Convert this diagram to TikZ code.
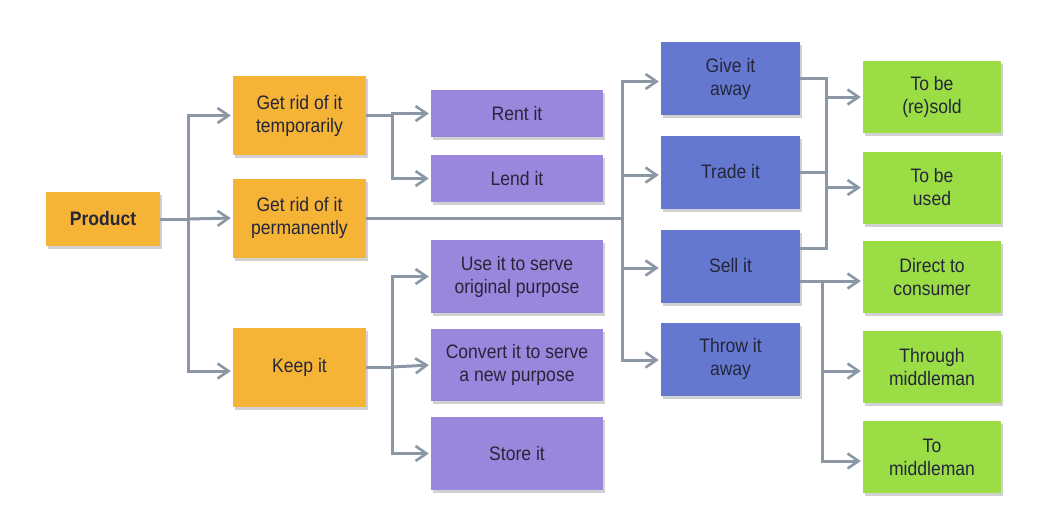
\documentclass[tikz,border=0pt]{standalone}
\usepackage{fontspec}
\setmainfont[FakeStretch=0.9]{Liberation Sans}
\usetikzlibrary{arrows.meta,shadows}
\definecolor{orng}{HTML}{F6B436}
\definecolor{purp}{HTML}{9A86DC}
\definecolor{blu}{HTML}{6478CF}
\definecolor{grn}{HTML}{9ADD45}
\definecolor{ln}{HTML}{8C97A6}
\definecolor{txt}{HTML}{25263A}
\begin{document}
\begin{tikzpicture}[x=1pt,y=-1pt,
  box/.style={draw=none, align=center, text=txt, inner sep=0pt,
    font=\fontsize{19.5}{23}\selectfont,
    drop shadow={shadow xshift=2pt, shadow yshift=-3pt, fill=black, opacity=0.18}},
  ob/.style={box, fill=orng, minimum width=133pt, minimum height=79pt},
  pb/.style={box, fill=purp, minimum width=172pt},
  bb/.style={box, fill=blu, minimum width=139pt, minimum height=73pt},
  gb/.style={box, fill=grn, minimum width=138pt, minimum height=72pt},
  conn/.style={draw=ln, line width=3pt},
  arr/.style={conn, -{Straight Barb[length=11pt,width=15pt,line width=2.6pt]}, shorten >=2pt}]
\useasboundingbox (0,0) rectangle (1049,515);
% column 1
\node[box, fill=orng, minimum width=114pt, minimum height=54pt, font=\fontsize{19.5}{23}\selectfont\bfseries] (prod) at (103,219) {Product};
% column 2
\node[ob] (temp) at (299.5,115.5) {Get rid of it\\temporarily};
\node[ob] (perm) at (299.5,218) {Get rid of it\\permanently};
\node[ob] (keep) at (299.5,367) {Keep it};
% column 3
\node[pb, minimum height=47pt] (rent) at (517,113.5) {Rent it};
\node[pb, minimum height=47pt] (lend) at (517,178.5) {Lend it};
\node[pb, minimum height=73pt] (use) at (517,276.5) {Use it to serve\\original purpose};
\node[pb, minimum height=72pt] (conv) at (517,365) {Convert it to serve\\a new purpose};
\node[pb, minimum height=73pt] (store) at (517,453.5) {Store it};
% column 4
\node[bb] (give) at (730.5,78.5) {Give it\\away};
\node[bb] (trade) at (730.5,172) {Trade it};
\node[bb] (sell) at (730.5,266) {Sell it};
\node[bb] (throw) at (730.5,359) {Throw it\\away};
% column 5
\node[gb] (resold) at (932,97) {To be\\(re)sold};
\node[gb] (used) at (932,187.5) {To be\\used};
\node[gb] (direct) at (932,277) {Direct to\\consumer};
\node[gb] (through) at (932,367) {Through\\middleman};
\node[gb] (tomid) at (932,457) {To\\middleman};
% junctions
\coordinate (j1) at (188,219);
\coordinate (j2) at (392,115.5);
\coordinate (j3) at (622,218);
\coordinate (j4) at (392,367);
\coordinate (j5) at (826,248);
\coordinate (j6) at (822,281);
% product
\draw[conn] (prod.east) -- (j1);
\draw[arr] (j1) |- (temp.west);
\draw[arr] (j1) -- (perm.west);
\draw[arr] (j1) |- ([yshift=-4pt]keep.west);
% temporarily
\draw[conn] (temp.east) -- (j2);
\draw[arr] (j2) |- (rent.west);
\draw[arr] (j2) |- (lend.west);
% permanently
\draw[conn] (perm.east) -- (j3);
\draw[arr] (j3) |- ([yshift=-3pt]give.west);
\draw[arr] (j3) |- ([yshift=-3pt]trade.west);
\draw[arr] (j3) |- ([yshift=-2pt]sell.west);
\draw[arr] (j3) |- ([yshift=-1pt]throw.west);
% keep
\draw[conn] (keep.east) -- (j4);
\draw[arr] (j4) |- (use.west);
\draw[arr] (j4) -- (conv.west);
\draw[arr] (j4) |- (store.west);
% right trunk upper
\draw[conn] (give.east) -- (give.east -| j5) -- (j5) -- (j5 -| sell.east);
\draw[conn] (trade.east) -- (trade.east -| j5);
\draw[arr] (j5 |- resold.west) -- (resold.west);
\draw[arr] (j5 |- used.west) -- (used.west);
% right trunk lower
\draw[conn] (j6 -| sell.east) -- (j6);
\draw[arr] (j6) -- (j6 -| direct.west);
\draw[arr] (j6) |- ([yshift=-4pt]through.west);
\draw[arr] (j6) |- ([yshift=-4pt]tomid.west);
\end{tikzpicture}
\end{document}
